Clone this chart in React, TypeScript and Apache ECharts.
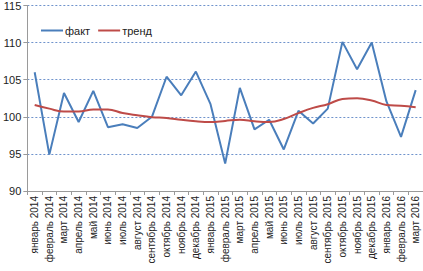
import React, { useEffect, useRef } from "react";
import * as echarts from "echarts";

const categories = [
  "январь 2014", "февраль 2014", "март 2014", "апрель 2014", "май 2014", "июнь 2014",
  "июль 2014", "август 2014", "сентябрь 2014", "октябрь 2014", "ноябрь 2014", "декабрь 2014",
  "январь 2015", "февраль 2015", "март 2015", "апрель 2015", "май 2015", "июнь 2015",
  "июль 2015", "август 2015", "сентябрь 2015", "октябрь 2015", "ноябрь 2015", "декабрь 2015",
  "январь 2016", "февраль 2016", "март 2016",
];

const fact = [
  106.0, 94.9, 103.2, 99.3, 103.5, 98.6, 99.0, 98.5, 100.0, 105.4, 102.9, 106.1,
  101.7, 93.7, 103.9, 98.3, 99.6, 95.6, 100.8, 99.1, 101.1, 110.1, 106.4, 110.0,
  102.1, 97.3, 103.6,
];

const trend = [
  101.6, 101.1, 100.7, 100.7, 101.0, 101.0, 100.5, 100.2, 99.95, 99.85, 99.6, 99.4,
  99.3, 99.45, 99.6, 99.4, 99.3, 99.7, 100.5, 101.2, 101.7, 102.4, 102.5, 102.2,
  101.6, 101.5, 101.3,
];

const yTicks = { min: 90, max: 115, interval: 5 };

export default function App() {
  const ref = useRef<HTMLDivElement>(null);
  useEffect(() => {
    if (!ref.current) return;
    const chart = echarts.init(ref.current, undefined, { renderer: "svg" });
    const font = "'Liberation Sans', Arial, sans-serif";
    chart.setOption({
      animation: false,
      textStyle: { fontFamily: font },
      grid: { left: 27, right: 0, top: 5, bottom: 80, containLabel: false },
      legend: {
        left: 36,
        top: 20,
        itemWidth: 22,
        itemHeight: 10,
        itemGap: 8,
        icon: "path://M0,4 L22,4 L22,6 L0,6 Z",
        textStyle: { fontSize: 11, color: "#222", fontFamily: font, padding: [0, 0, 0, -3] },
        data: ["факт", "тренд"],
      },
      xAxis: {
        type: "category",
        data: categories,
        boundaryGap: true,
        axisLine: { lineStyle: { color: "#9a9a9a", width: 1 } },
        axisTick: { show: true, alignWithLabel: false, length: 4, lineStyle: { color: "#9a9a9a" } },
        axisLabel: { rotate: 90, interval: 0, fontSize: 10, color: "#222", margin: 5, fontFamily: font },
        splitLine: { show: false },
      },
      yAxis: {
        type: "value",
        min: yTicks.min,
        max: yTicks.max,
        interval: yTicks.interval,
        axisLine: { show: true, lineStyle: { color: "#9a9a9a", width: 1 } },
        axisTick: { show: true, length: 4, lineStyle: { color: "#9a9a9a" } },
        axisLabel: { fontSize: 11, color: "#222", margin: 6, fontFamily: font },
        splitLine: { show: true, lineStyle: { color: "#6f93cc", type: [2, 2], width: 1 } },
      },
      series: [
        {
          name: "факт",
          type: "line",
          data: fact,
          symbol: "none",
          lineStyle: { color: "#4a7ebb", width: 2 },
          itemStyle: { color: "#4a7ebb" },
        },
        {
          name: "тренд",
          type: "line",
          data: trend,
          symbol: "none",
          smooth: 0.4,
          lineStyle: { color: "#be4b48", width: 2 },
          itemStyle: { color: "#be4b48" },
        },
      ],
    });
    return () => chart.dispose();
  }, []);
  return (
    <div
      ref={ref}
      style={{ position: "fixed", left: 0, top: 0, width: 423, height: 271, background: "#fff" }}
    />
  );
}
